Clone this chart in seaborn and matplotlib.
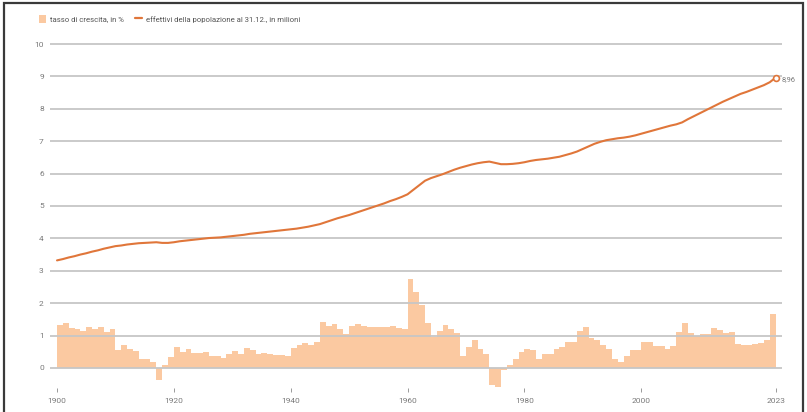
import matplotlib
matplotlib.use("Agg")
import matplotlib.pyplot as plt
from matplotlib.patches import Patch, Rectangle
from matplotlib.lines import Line2D
import numpy as np
import pandas as pd
import seaborn as sns

# Annual growth rate of the resident population, in % (1901-2023)
growth_years = list(range(1901, 2024))
growth_rate = [
    1.34, 1.38, 1.23, 1.21, 1.15, 1.27, 1.19, 1.25, 1.10, 1.19,   # 1901-1910
    0.56, 0.71, 0.58, 0.53, 0.28, 0.29, 0.17, -0.36, 0.10, 0.35,  # 1911-1920
    0.64, 0.50, 0.58, 0.46, 0.45, 0.49, 0.36, 0.38, 0.30, 0.42,   # 1921-1930
    0.52, 0.44, 0.62, 0.54, 0.43, 0.46, 0.42, 0.41, 0.40, 0.37,   # 1931-1940
    0.63, 0.70, 0.78, 0.71, 0.80, 1.41, 1.30, 1.36, 1.21, 1.04,   # 1941-1950
    1.29, 1.35, 1.29, 1.27, 1.26, 1.26, 1.27, 1.29, 1.23, 1.20,   # 1951-1960
    2.75, 2.35, 1.94, 1.38, 0.97, 1.14, 1.31, 1.19, 1.07, 0.38,   # 1961-1970
    0.65, 0.85, 0.59, 0.44, -0.54, -0.58, -0.05, 0.10, 0.28, 0.48,  # 1971-1980
    0.57, 0.56, 0.27, 0.43, 0.43, 0.58, 0.65, 0.80, 0.81, 1.14,   # 1981-1990
    1.26, 0.93, 0.85, 0.70, 0.59, 0.26, 0.19, 0.37, 0.56, 0.54,   # 1991-2000
    0.80, 0.79, 0.68, 0.68, 0.58, 0.68, 1.10, 1.39, 1.09, 0.99,   # 2001-2010
    1.06, 1.05, 1.23, 1.18, 1.09, 1.11, 0.75, 0.70, 0.70, 0.73,   # 2011-2020
    0.78, 0.85, 1.65,                                             # 2021-2023
]

# Resident population on 31 December, in millions (1900-2023)
pop_years = list(range(1900, 2024))
population = [
    3.32, 3.36, 3.41, 3.45, 3.50, 3.54, 3.59, 3.63, 3.68, 3.72,   # 1900-1909
    3.76, 3.78, 3.81, 3.83, 3.85, 3.86, 3.87, 3.88, 3.86, 3.86,   # 1910-1919
    3.88, 3.91, 3.93, 3.95, 3.97, 3.99, 4.01, 4.02, 4.03, 4.05,   # 1920-1929
    4.07, 4.09, 4.11, 4.14, 4.16, 4.18, 4.20, 4.22, 4.24, 4.26,   # 1930-1939
    4.28, 4.30, 4.33, 4.36, 4.40, 4.44, 4.50, 4.56, 4.62, 4.67,   # 1940-1949
    4.72, 4.78, 4.84, 4.90, 4.96, 5.02, 5.08, 5.15, 5.21, 5.28,   # 1950-1959
    5.36, 5.50, 5.64, 5.78, 5.86, 5.92, 5.98, 6.05, 6.12, 6.18,   # 1960-1969
    6.23, 6.28, 6.32, 6.35, 6.37, 6.33, 6.29, 6.29, 6.30, 6.32,   # 1970-1979
    6.35, 6.39, 6.42, 6.44, 6.46, 6.49, 6.52, 6.57, 6.62, 6.68,   # 1980-1989
    6.76, 6.84, 6.92, 6.98, 7.03, 7.06, 7.09, 7.11, 7.14, 7.18,   # 1990-1999
    7.23, 7.28, 7.33, 7.38, 7.43, 7.48, 7.52, 7.58, 7.68, 7.77,   # 2000-2009
    7.86, 7.95, 8.04, 8.13, 8.22, 8.30, 8.38, 8.46, 8.52, 8.59,   # 2010-2019
    8.66, 8.73, 8.82, 8.96,                                       # 2020-2023
]

x_ticks = [1900, 1920, 1940, 1960, 1980, 2000, 2023]
y_ticks = list(range(0, 11))
legend_labels = ["tasso di crescita, in %",
                 "effettivi della popolazione al 31.12., in milioni"]
last_label = "8,96"

BAR_COLOR = "#FBC9A1"
LINE_COLOR = "#E0763A"
GRID_COLOR = "#C6C6C6"
TEXT_COLOR = "#7A7A7A"

sns.set_theme(style="white")
plt.rcParams["font.family"] = ["Roboto", "DejaVu Sans"]

fig = plt.figure(figsize=(8.07, 4.12), dpi=100)
W, H = 807, 412
ax = fig.add_axes([50 / W, 1 - 388 / H, 732 / W, (388 - 42.4) / H])

# growth bars: the rate of year Y fills the interval Y-1 .. Y
growth_df = pd.DataFrame({"year": np.array(growth_years) - 0.5, "rate": growth_rate})
sns.barplot(data=growth_df, x="year", y="rate", native_scale=True, width=1.0,
            color=BAR_COLOR, saturation=1, linewidth=0, errorbar=None, ax=ax, zorder=1)

# horizontal grid above the bars
ax.hlines(y_ticks, 1898.8, 2024.1, colors=GRID_COLOR, linewidth=1.3, zorder=2)

pop_df = pd.DataFrame({"year": pop_years, "pop": population})
sns.lineplot(data=pop_df, x="year", y="pop", color=LINE_COLOR, linewidth=1.5,
             ax=ax, zorder=3)
ax.plot(pop_years[-1], population[-1], marker="o", ms=4.2, mfc="white",
        mec=LINE_COLOR, mew=1.2, zorder=4)
ax.annotate(last_label, (pop_years[-1], population[-1]), xytext=(4, -1.5),
            textcoords="offset points", fontsize=5.4, color=TEXT_COLOR,
            va="center", ha="left", annotation_clip=False)

ax.set_xlim(1898.8, 2024.1)
ax.set_ylim(-0.62, 10.05)
ax.set_xticks(x_ticks)
ax.set_xticklabels([str(t) for t in x_ticks])
ax.set_yticks(y_ticks)
ax.set_xlabel("")
ax.set_ylabel("")
for s in ax.spines.values():
    s.set_visible(False)
ax.tick_params(axis="x", length=3, width=0.7, color="#9A9A9A", pad=4.5,
               labelsize=6, labelcolor=TEXT_COLOR, bottom=True)
ax.tick_params(axis="y", length=0, pad=4.5, labelsize=6, labelcolor=TEXT_COLOR)

handles = [Patch(facecolor=BAR_COLOR, edgecolor="none"),
           Line2D([0], [0], color=LINE_COLOR, linewidth=1.6)]
fig.legend(handles, legend_labels, loc="center left",
           bbox_to_anchor=(32 / W, 1 - 19 / H), ncol=2, frameon=False,
           fontsize=5.6, labelcolor="#555555", handlelength=0.9, handleheight=1.4,
           handletextpad=0.5, columnspacing=1.4)

# outer frame
fig.patches.append(Rectangle((4 / W, -0.02), 799 / W, 1 - 3 / H + 0.02,
                             transform=fig.transFigure, fill=False,
                             edgecolor="#3A3A3A", linewidth=1.6))

fig.savefig("out.png", dpi=100)
